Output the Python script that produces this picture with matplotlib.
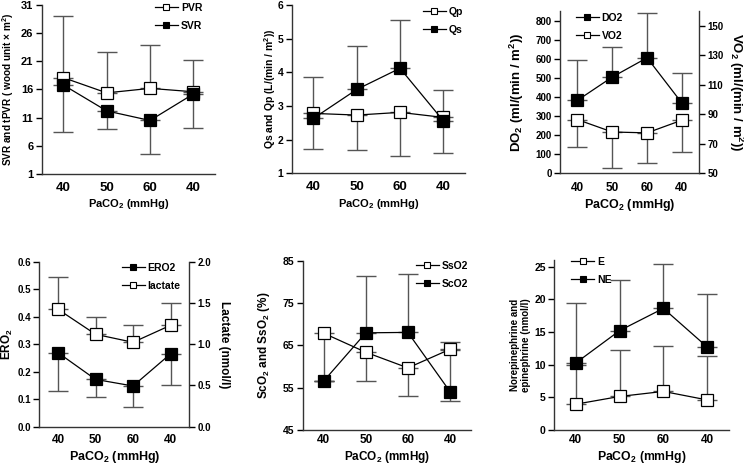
import matplotlib.pyplot as plt
from matplotlib.lines import Line2D

plt.rcParams['font.family'] = 'Liberation Sans'
plt.rcParams['font.weight'] = 'bold'
plt.rcParams['axes.labelweight'] = 'bold'
plt.rcParams['mathtext.fontset'] = 'custom'
plt.rcParams['mathtext.rm'] = 'Liberation Sans:bold'
plt.rcParams['mathtext.default'] = 'rm'

# Data (mean and one-sided SD)
x_labels = ['40', '50', '60', '40']
pos = [1, 2, 3, 4]

pvr = [18.1, 15.4, 16.2, 15.6]
pvr_sd = [10.9, 7.3, 7.7, 5.6]
svr = [16.8, 12.2, 10.5, 15.2]
svr_sd = [8.3, 3.2, 6.0, 6.0]

qp = [2.78, 2.73, 2.81, 2.66]
qp_sd = [1.07, 1.05, 1.29, 1.07]
qs = [2.63, 3.49, 4.12, 2.56]
qs_sd = [1.24, 1.29, 1.44, 0.91]

do2 = [382, 504, 605, 368]
do2_sd = [213, 156, 235, 157]
vo2 = [86.4, 78.0, 77.4, 86.0]
vo2_sd = [18.5, 24.2, 20.3, 21.8]

ero2 = [0.269, 0.172, 0.148, 0.265]
ero2_sd = [0.139, 0.063, 0.075, 0.112]
lactate = [1.423, 1.12, 1.023, 1.229]
lactate_sd = [0.395, 0.213, 0.21, 0.267]

sso2 = [67.9, 63.4, 59.7, 64.1]
sso2_lo = [11.3, 6.7, 6.7, 0.0]
sso2_hi = [0.0, 0.0, 0.0, 1.7]
sco2 = [56.6, 68.0, 68.1, 54.1]
sco2_lo = [0.0, 0.0, 0.0, 2.2]
sco2_hi = [0.0, 13.5, 13.8, 9.9]

e = [3.95, 5.13, 5.9, 4.6]
e_sd = [6.0, 7.07, 6.9, 6.7]
ne = [10.26, 15.2, 18.6, 12.7]
ne_sd = [9.1, 7.8, 6.8, 8.1]

W, H = 744, 467
fig = plt.figure(figsize=(W / 100, H / 100), dpi=100)
ERR = '#555555'


def make_ax(left, top, right, bottom):
    return fig.add_axes([left / W, 1 - bottom / H, (right - left) / W, (bottom - top) / H])


def style(ax, xt=9.5, yt=7.5, xpad=5.5):
    for s in ['top', 'right']:
        ax.spines[s].set_visible(False)
    for s in ['left', 'bottom']:
        ax.spines[s].set_linewidth(1.0)
        ax.spines[s].set_color('#333333')
    ax.set_xlim(0.5, 4.5)
    ax.set_xticks(pos)
    ax.set_xticklabels(x_labels, fontsize=xt, fontweight='bold')
    ax.tick_params(axis='x', length=0, pad=xpad)
    ax.tick_params(axis='y', direction='out', length=4, width=1, labelsize=yt, pad=2)


def series(ax, y, lo, hi, filled, z=3):
    ax.errorbar(pos, y, yerr=[lo, hi], fmt='none', ecolor=ERR, elinewidth=1,
                capsize=7, capthick=1, zorder=1)
    ax.plot(pos, y, '-', color='black', lw=0.9, marker='s', markersize=8,
            markerfacecolor='black' if filled else 'white', markeredgecolor='black',
            markeredgewidth=0.9, zorder=z)


def legend(ax, entries, x, y, fs=7.5):
    handles = [Line2D([], [], color='black', lw=0.9, marker='s', markersize=5,
                      markerfacecolor='black' if f else 'white', markeredgecolor='black',
                      markeredgewidth=0.8) for _, f in entries]
    ax.legend(handles, [t for t, _ in entries], loc='upper left',
              bbox_to_anchor=(x / W, 1 - y / H), bbox_transform=fig.transFigure,
              frameon=False, borderpad=0, borderaxespad=0, handlelength=2.2,
              handletextpad=0.3, labelspacing=0.75, prop={'size': fs, 'weight': 'bold'})


def right_axis(ax):
    for s in ['top', 'left', 'bottom']:
        ax.spines[s].set_visible(False)
    ax.spines['right'].set_linewidth(1.0)
    ax.spines['right'].set_color('#333333')
    ax.tick_params(axis='y', direction='out', length=4, width=1, labelsize=7, pad=2)


zeros = [0, 0, 0, 0]
xlab = r'PaCO$_2$ (mmHg)'

# Panel 1
ax1 = make_ax(41.7, 5, 215, 174)
series(ax1, pvr, zeros, pvr_sd, False)
series(ax1, svr, svr_sd, zeros, True, z=4)
ax1.set_ylim(1, 31)
ax1.set_yticks([1, 6, 11, 16, 21, 26, 31])
style(ax1, yt=8)
ax1.set_ylabel(r'SVR and tPVR ( wood unit $\times$ m$^2$)', fontsize=7.2)
ax1.yaxis.set_label_coords(-0.148, 0.5)
ax1.set_xlabel(xlab, fontsize=8, va='top')
ax1.xaxis.set_label_coords(0.5, -0.136)
legend(ax1, [('PVR', False), ('SVR', True)], 155, 3)

# Panel 2
ax2 = make_ax(291.7, 5, 465, 173.3)
series(ax2, qp, qp_sd, zeros, False)
series(ax2, qs, zeros, qs_sd, True, z=4)
ax2.set_ylim(1, 6)
ax2.set_yticks([1, 2, 3, 4, 5, 6])
style(ax2, yt=7.5)
ax2.set_ylabel(r'Qs and Qp (L/(min / m$^2$))', fontsize=7.5)
ax2.yaxis.set_label_coords(-0.079, 0.5)
ax2.set_xlabel(xlab, fontsize=8, va='top')
ax2.xaxis.set_label_coords(0.5, -0.141)
legend(ax2, [('Qp', False), ('Qs', True)], 422.7, 7)

# Panel 3
ax3 = make_ax(560, 11, 699.3, 173.3)
ax3r = ax3.twinx()
series(ax3, do2, zeros, do2_sd, True, z=4)
series(ax3r, vo2, vo2_sd, zeros, False)
ax3.set_ylim(0, 850)
ax3.set_yticks(range(0, 900, 100))
ax3r.set_ylim(50, 160)
ax3r.set_yticks([50, 70, 90, 110, 130, 150])
style(ax3, xt=8.5, yt=7, xpad=6)
right_axis(ax3r)
ax3.set_ylabel(r'DO$_2$ (ml/(min / m$^2$))', fontsize=9.5)
ax3.yaxis.set_label_coords(-0.244, 0.5)
ax3r.set_ylabel(r'VO$_2$ (ml/(min / m$^2$))', fontsize=9.5, rotation=270, va='bottom')
ax3r.yaxis.set_label_coords(1.199, 0.5)
ax3.set_xlabel(xlab, fontsize=9, va='top')
ax3.xaxis.set_label_coords(0.5, -0.146)
legend(ax3r, [('DO2', True), ('VO2', False)], 575.7, 13)

# Panel 4
ax4 = make_ax(39.3, 261.7, 189.3, 426.7)
ax4r = ax4.twinx()
series(ax4, ero2, ero2_sd, zeros, True, z=4)
series(ax4r, lactate, zeros, lactate_sd, False)
ax4.set_ylim(0, 0.6)
ax4.set_yticks([0, 0.1, 0.2, 0.3, 0.4, 0.5, 0.6])
ax4.set_yticklabels(['0.0', '0.1', '0.2', '0.3', '0.4', '0.5', '0.6'])
ax4r.set_ylim(0, 2.0)
ax4r.set_yticks([0, 0.5, 1.0, 1.5, 2.0])
ax4r.set_yticklabels(['0.0', '0.5', '1.0', '1.5', '2.0'])
style(ax4, xt=8.5, yt=7, xpad=5)
right_axis(ax4r)
ax4.set_ylabel(r'ERO$_2$', fontsize=8.5)
ax4.yaxis.set_label_coords(-0.165, 0.5)
ax4r.set_ylabel('Lactate (nmol/l)', fontsize=8.5, rotation=270, va='bottom')
ax4r.yaxis.set_label_coords(1.191, 0.5)
ax4.set_xlabel(xlab, fontsize=9, va='top')
ax4.xaxis.set_label_coords(0.5, -0.135)
legend(ax4r, [('ERO2', True), ('lactate', False)], 121.7, 263)

# Panel 5
ax5 = make_ax(302.7, 261, 471, 430)
series(ax5, sso2, sso2_lo, sso2_hi, False)
series(ax5, sco2, sco2_lo, sco2_hi, True, z=4)
ax5.set_ylim(45, 85)
ax5.set_yticks([45, 55, 65, 75, 85])
style(ax5, xt=8.5, yt=7.5, xpad=3)
ax5.set_ylabel(r'ScO$_2$ and SsO$_2$ (%)', fontsize=8.5)
ax5.yaxis.set_label_coords(-0.182, 0.5)
ax5.set_xlabel(xlab, fontsize=8.5, va='top')
ax5.xaxis.set_label_coords(0.5, -0.112)
legend(ax5, [('SsO2', False), ('ScO2', True)], 415.7, 261)

# Panel 6
ax6 = make_ax(554, 260, 729, 430)
series(ax6, e, zeros, e_sd, False)
series(ax6, ne, zeros, ne_sd, True, z=4)
ax6.set_ylim(0, 26)
ax6.set_yticks([0, 5, 10, 15, 20, 25])
style(ax6, xt=8.5, yt=7.5, xpad=3)
ax6.set_ylabel('Norepinephrine and\nepinephrine (nmol/l)', fontsize=7, linespacing=1.1)
ax6.yaxis.set_label_coords(-0.131, 0.5)
ax6.set_xlabel(xlab, fontsize=8.8, va='top')
ax6.xaxis.set_label_coords(0.5, -0.112)
legend(ax6, [('E', False), ('NE', True)], 571.3, 257)

fig.savefig('out.png', dpi=100)
